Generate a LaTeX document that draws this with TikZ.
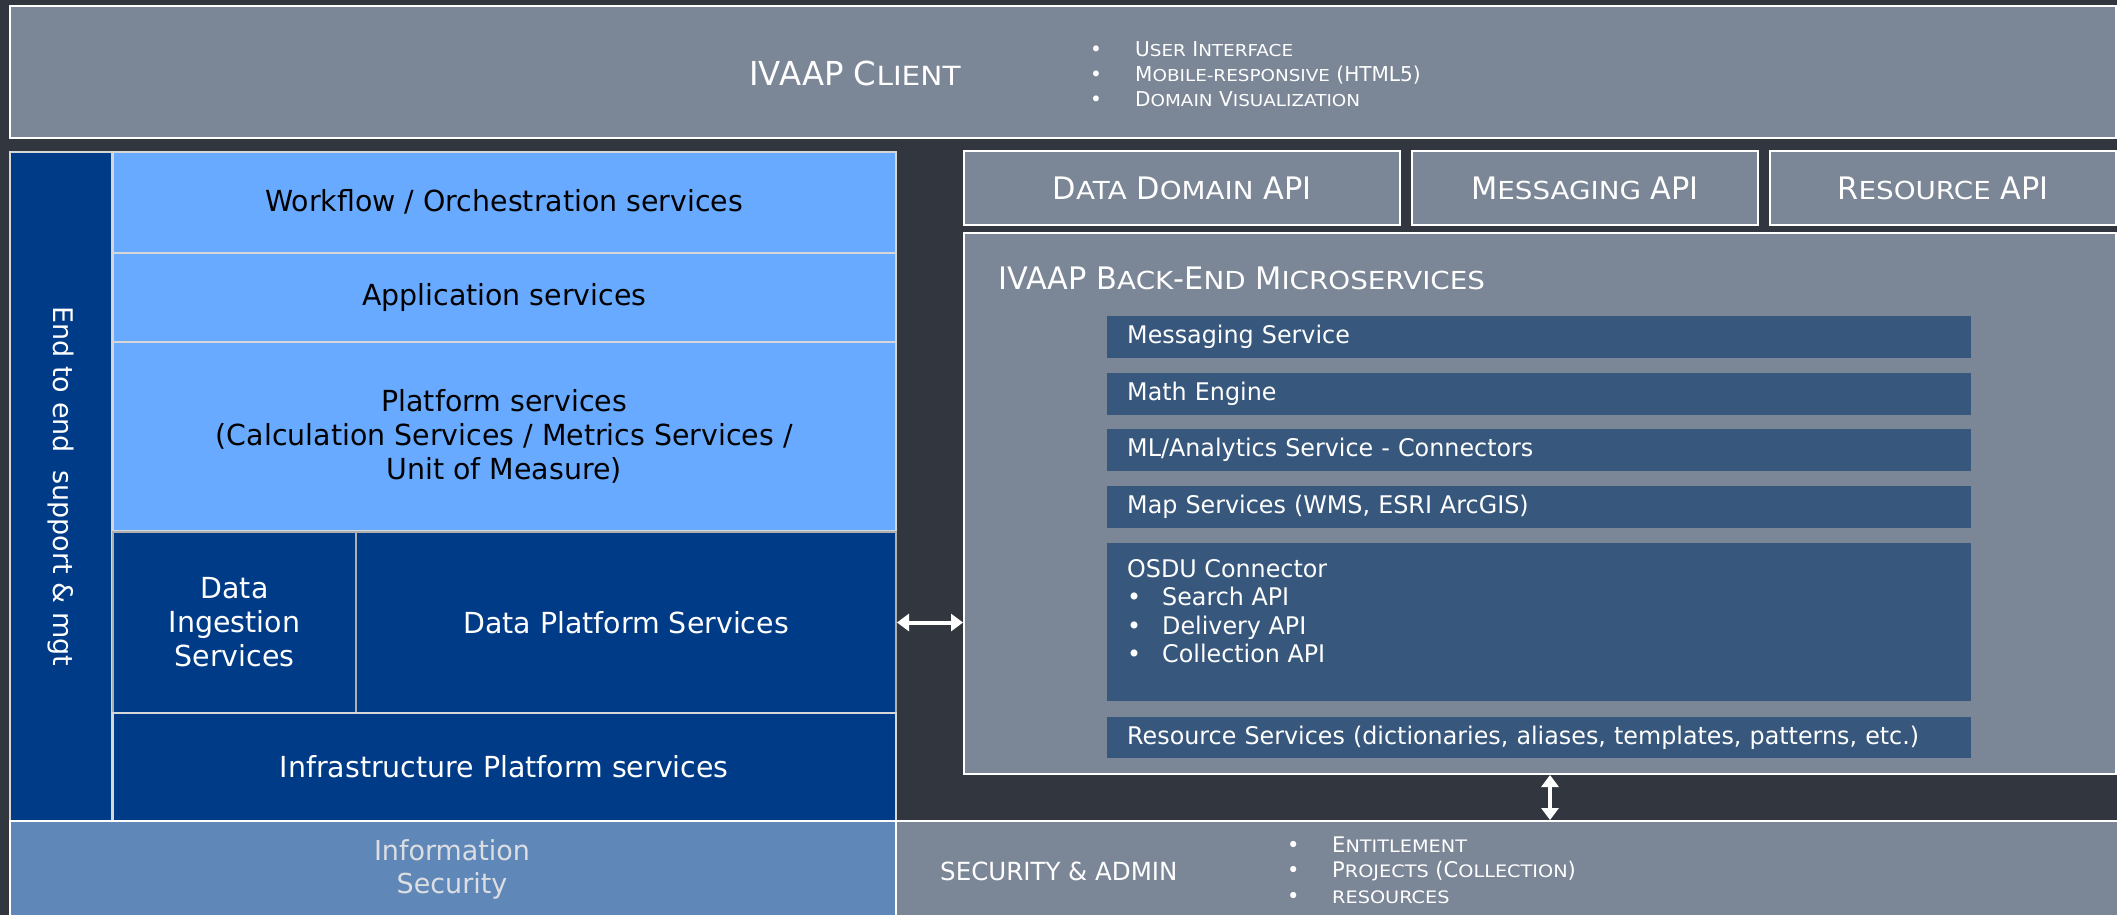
\documentclass[tikz,border=0pt]{standalone}
\usepackage{fontspec}
\setmainfont{DejaVu Sans}[FakeStretch=0.98]
\newfontfamily\widefont{DejaVu Sans}
\newfontfamily\capfont{DejaVu Sans}[FakeStretch=1.12]
\usetikzlibrary{arrows.meta,positioning}

\definecolor{bgdark}{RGB}{50,54,63}
\definecolor{slate}{RGB}{123,134,150}
\definecolor{skyblue}{RGB}{104,170,255}
\definecolor{navy}{RGB}{0,59,135}
\definecolor{infoblue}{RGB}{95,135,184}
\definecolor{svcblue}{RGB}{55,87,124}
\definecolor{sepgray}{RGB}{215,215,215}
\definecolor{midgray}{RGB}{175,175,175}
\definecolor{softwhite}{RGB}{220,222,226}

\makeatletter
\newcommand\lowcap[1]{{\capfont\fontsize{\fpeval{0.8*\f@size}}{0}\selectfont #1}}
\makeatother
\newcommand\bul{\makebox[45pt][l]{•}}
\newcommand\sbul{\makebox[35pt][l]{•}}
\newcommand\stackfont{\fontsize{29}{34}\selectfont}
\newcommand\svcfont{\fontsize{24.3}{28.5}\selectfont}
\newcommand\apifont{\fontsize{31}{36}\selectfont}

\begin{document}
\begin{tikzpicture}[
        x=1pt, y=-1pt,
        every node/.style={inner sep=0pt},
        wh/.style 2 args={minimum width=#1pt, minimum height=#2pt},
        box/.style={rectangle, anchor=north west, align=center, draw=white, line width=2pt},
        slatebox/.style={box, fill=slate, text=white},
        skybox/.style={box, draw=sepgray, line width=1.5pt, fill=skyblue, text=black, font=\stackfont},
        navybox/.style={box, draw=sepgray, line width=1.5pt, fill=navy, text=white, font=\stackfont},
        svc/.style={rectangle, anchor=north west, fill=svcblue, text=white, align=left,
                    text width=824pt, inner xsep=20pt, minimum width=864pt, font=\svcfont},
        dbl/.style={{Triangle[length=12pt,width=17pt]}-{Triangle[length=12pt,width=17pt]},
                    line width=4pt, draw=white},
        ]

        \useasboundingbox (0,0) rectangle (2117,915);
        \fill[bgdark] (0,0) rectangle (2117,915);

        % client
        \node[slatebox, wh={2106}{132}] (client) at (9,5) {};
        \node[text=white, font=\fontsize{33}{38}\selectfont] (clienttxt) at (855,73) {IVAAP C\lowcap{LIENT}};
        \node[anchor=west, align=left, text=white, font=\fontsize{20.5}{25}\selectfont] (clientlist) at (1090,74)
            {\bul U\lowcap{SER} I\lowcap{NTERFACE}\\
             \bul M\lowcap{OBILE-RESPONSIVE} (HTML5)\\
             \bul D\lowcap{OMAIN} V\lowcap{ISUALIZATION}};

        % left stack
        \node[navybox, wh={102}{669}] (e2e) at (9,151) {};
        \node[rotate=-90, text=white, font=\widefont\fontsize{27}{30}\selectfont] (e2etxt) at (e2e.center)
            {End to end\ \ support \& mgt};
        \node[skybox, wh={783}{101}] (wf) at (112,151) {Workflow / Orchestration services};
        \node[skybox, wh={783}{89}] (app) at (112,252) {Application services};
        \node[skybox, wh={783}{189}] (plat) at (112,341)
            {Platform services\\(Calculation Services / Metrics Services /\\Unit of Measure)};
        \node[navybox, draw=midgray, line width=2pt, wh={243}{181}] (ing) at (112,531)
            {Data\\Ingestion\\Services};
        \node[navybox, draw=midgray, line width=2pt, wh={540}{181}] (dps) at (355,531)
            {Data Platform Services};
        \node[navybox, wh={783}{108}] (infra) at (112,712) {Infrastructure Platform services};

        % bottom row
        \node[box, fill=infoblue, wh={886}{110}] (info) at (9,820) {};
        \node[text=softwhite, align=center, font=\fontsize{27.5}{33}\selectfont] (infotxt) at (452,869)
            {Information\\Security};
        \node[box, fill=slate, wh={1222}{110}] (sec) at (895,820) {};
        \node[anchor=west, text=white, font=\fontsize{25}{28}\selectfont] (sectxt) at (940,871)
            {SECURITY \& ADMIN};
        \node[anchor=west, align=left, text=white, font=\fontsize{21.5}{25.5}\selectfont] (seclist) at (1287,870)
            {\bul E\lowcap{NTITLEMENT}\\
             \bul P\lowcap{ROJECTS} (C\lowcap{OLLECTION})\\
             \bul \lowcap{RESOURCES}};

        % apis
        \node[slatebox, font=\apifont, wh={436}{74}] (ddapi) at (963,150) {D\lowcap{ATA} D\lowcap{OMAIN} API};
        \node[slatebox, font=\apifont, wh={346}{74}] (msgapi) at (1411,150) {M\lowcap{ESSAGING} API};
        \node[slatebox, font=\apifont, wh={346}{74}] (resapi) at (1769,150) {R\lowcap{ESOURCE} API};

        % back-end
        \node[slatebox, wh={1152}{541}] (back) at (963,232) {};
        \node[anchor=west, text=white, font=\fontsize{31}{36}\selectfont] (backtxt) at (998,278)
            {IVAAP B\lowcap{ACK}-E\lowcap{ND} M\lowcap{ICROSERVICES}};
        \node[svc, minimum height=42pt] (msgsvc) at (1107,316) {Messaging Service};
        \node[svc, minimum height=42pt] (math) at (1107,373) {Math Engine};
        \node[svc, minimum height=42pt] (ml) at (1107,429) {ML/Analytics Service - Connectors};
        \node[svc, minimum height=42pt] (map) at (1107,486) {Map Services (WMS, ESRI ArcGIS)};
        \node[svc, minimum height=158pt] (osdu) at (1107,543) {};
        \node[anchor=west, align=left, text=white, font=\svcfont] (osdutxt) at (1127,611)
            {OSDU Connector\\
             \sbul Search API\\
             \sbul Delivery API\\
             \sbul Collection API};
        \node[svc, minimum height=41pt] (ressvc) at (1107,717)
            {Resource Services (dictionaries, aliases, templates, patterns, etc.)};

        % edges
        \coordinate (vx) at (1550,0);
        \draw[dbl] (dps.east) -- (dps.east -| back.west);
        \draw[dbl] (vx |- back.south) -- (vx |- sec.north);

    \end{tikzpicture}
\end{document}
